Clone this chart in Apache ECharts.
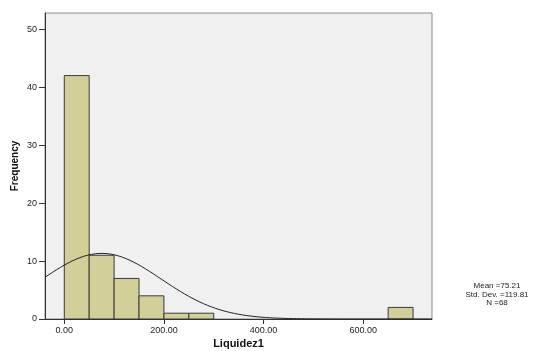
<!DOCTYPE html>
<html>
<head>
<meta charset="utf-8">
<script src="https://cdn.jsdelivr.net/npm/echarts@6/dist/echarts.min.js"></script>
<style>
  html, body { margin: 0; padding: 0; background: #ffffff; }
  #chart { width: 545px; height: 351px; }
</style>
</head>
<body>
<div id="chart"></div>
<script>
// Histogram of Liquidez1 (bin width 50)
const binStarts = [0, 50, 100, 150, 200, 250, 650];
const binWidth = 50;
const frequencies = [42, 11, 7, 4, 1, 1, 2];

// Summary statistics shown in the side legend
const meanValue = 75.21;
const stdDev = 119.81;
const sampleN = 68;

const xTicks = [0, 200, 400, 600];
const yTicks = [0, 10, 20, 30, 40, 50];

const xMin = -38.7, xMax = 738;
const yMin = 0, yMax = 52.8;

// Normal curve scaled to the histogram counts
const curve = [];
const scale = sampleN * binWidth / (stdDev * Math.sqrt(2 * Math.PI));
for (let i = 0; i <= 200; i++) {
  const x = xMin + (xMax - xMin) * i / 200;
  const z = (x - meanValue) / stdDev;
  curve.push([x, scale * Math.exp(-0.5 * z * z)]);
}

const bins = binStarts.map((s, i) => [s, s + binWidth, frequencies[i]]);

const chart = echarts.init(document.getElementById('chart'), null, { renderer: 'canvas' });
chart.setOption({
  animation: false,
  backgroundColor: '#ffffff',
  grid: {
    left: 45, top: 13, right: 113, bottom: 32,
    outerBoundsMode: 'none', containLabel: false,
    show: true, backgroundColor: '#f0f0f0', borderColor: '#8a8a8a', borderWidth: 1
  },
  xAxis: {
    type: 'value', min: xMin, max: xMax,
    name: 'Liquidez1', nameLocation: 'middle', nameGap: 19, nameMoveOverlap: false,
    nameTextStyle: { fontFamily: 'Liberation Sans, Arial', fontWeight: 'bold', fontSize: 11, color: '#111' },
    axisLine: { show: true, onZero: false, lineStyle: { color: '#333', width: 1 } },
    axisTick: { show: true, length: 5, lineStyle: { color: '#333' }, customValues: xTicks },
    axisLabel: {
      customValues: xTicks, margin: 7,
      formatter: v => v.toFixed(2),
      fontFamily: 'Liberation Sans, Arial', fontSize: 9, color: '#222'
    },
    splitLine: { show: false }
  },
  yAxis: {
    type: 'value', min: yMin, max: yMax,
    name: 'Frequency', nameLocation: 'middle', nameGap: 25, nameRotate: 90, nameMoveOverlap: false,
    nameTextStyle: { fontFamily: 'Liberation Sans, Arial', fontWeight: 'bold', fontSize: 10, color: '#111' },
    axisLine: { show: true, onZero: false, lineStyle: { color: '#333', width: 1 } },
    axisTick: { show: true, length: 6, lineStyle: { color: '#333' }, customValues: yTicks },
    axisLabel: {
      customValues: yTicks, margin: 8,
      fontFamily: 'Liberation Sans, Arial', fontSize: 9, color: '#222'
    },
    splitLine: { show: false }
  },
  series: [
    {
      type: 'custom',
      data: bins,
      clip: true,
      renderItem: function (params, api) {
        const p0 = api.coord([api.value(0), 0]);
        const p1 = api.coord([api.value(1), api.value(2)]);
        return {
          type: 'rect',
          shape: { x: p0[0], y: p1[1], width: p1[0] - p0[0], height: p0[1] - p1[1] },
          style: { fill: '#d3cf98', stroke: '#3a3a3a', lineWidth: 1 }
        };
      },
      encode: { x: [0, 1], y: 2 }
    },
    {
      type: 'line',
      data: curve,
      showSymbol: false,
      smooth: false,
      clip: true,
      lineStyle: { color: '#222', width: 1 },
      z: 3
    }
  ],
  graphic: [
    {
      type: 'text', x: 497, y: 282,
      style: {
        text: 'Mean =' + meanValue.toFixed(2) + '\nStd. Dev. =' + stdDev.toFixed(2) + '\nN =' + sampleN,
        align: 'center', verticalAlign: 'top',
        fontFamily: 'Liberation Sans, Arial', fontSize: 8, lineHeight: 8.5, fill: '#222'
      }
    }
  ]
});
</script>
</body>
</html>
